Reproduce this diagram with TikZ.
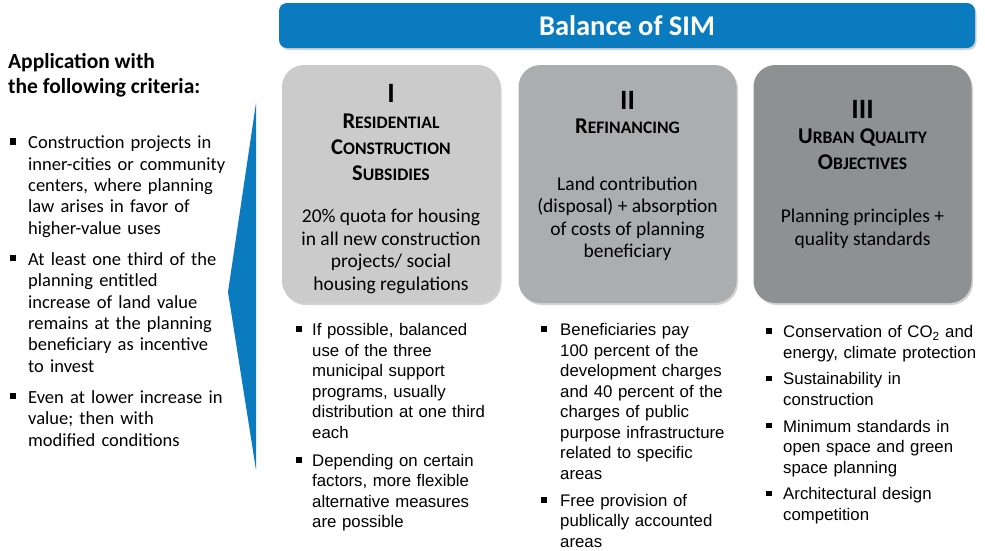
\documentclass[tikz,border=0pt]{standalone}
\usepackage{fontspec}
\setmainfont{Carlito}
\newfontfamily\arialfont{Liberation Sans}
\usetikzlibrary{shapes,positioning,shadows}
\usepackage{xcolor}

\definecolor{simblue}{HTML}{0B7BC0}
\definecolor{greyone}{HTML}{CBCBCC}
\definecolor{greytwo}{HTML}{ABAEB0}
\definecolor{greythree}{HTML}{8D9194}

% fake small caps for the pillar headings
\newcommand\smc[2]{#1{\fontsize{17.6}{26}\selectfont#2}}
% square bullet with hanging text block
\newlength\bulind
\newcommand\sqbullet{\rule[0.22em]{0.33em}{0.33em}}
\newcommand\bitem[2][0pt]{\par\vspace{#1}\noindent\makebox[\bulind][l]{\sqbullet}%
  \parbox[t]{\dimexpr\linewidth-\bulind\relax}{\raggedright\strut #2\strut}}

\begin{document}
\begin{tikzpicture}[x=1pt,y=-1pt]
  \tikzstyle{pillar} = [rounded corners=22pt, minimum width=218pt, minimum height=238pt,
                        drop shadow={opacity=0.35, shadow xshift=1.5pt, shadow yshift=-2pt}]
  \tikzstyle{roman} = [anchor=north, inner sep=0pt, font=\bfseries\fontsize{28}{30}\selectfont]
  \tikzstyle{heading} = [anchor=north, inner sep=0pt, align=center, font=\bfseries\fontsize{22.5}{26}\selectfont]
  \tikzstyle{boxtext} = [anchor=north, inner sep=0pt, align=center, font=\fontsize{19.5}{22.5}\selectfont]
  \tikzstyle{bullets} = [anchor=north west, inner sep=0pt, text width=240pt, align=left,
                         font=\arialfont\fontsize{16.8}{20.5}\selectfont]

  \useasboundingbox (0,0) rectangle (985,550);

  % title bar
  \node[fill=simblue, rounded corners=8pt, minimum width=696pt, minimum height=45pt,
        drop shadow={opacity=0.35, shadow xshift=1.5pt, shadow yshift=-2pt},
        text=white, font=\bfseries\fontsize{28.5}{30}\selectfont] (title) at (627,25.5) {Balance of SIM};

  % criteria on the left
  \node[anchor=north west, inner sep=0pt, align=left, font=\bfseries\fontsize{21.5}{25}\selectfont]
    (crithead) at (8,53) {Application with\\the following criteria:};
  \node[anchor=north west, inner sep=0pt, text width=225pt, align=left, font=\fontsize{18.5}{21.4}\selectfont]
    (critlist) at (10,127) {\setlength\bulind{18pt}%
      \bitem{Construction projects in\\inner-cities or community\\centers, where planning\\law arises in favor of\\higher-value uses}
      \bitem[8.6pt]{At least one third of the\\planning entitled\\increase of land value\\remains at the planning\\beneficiary as incentive\\to invest}
      \bitem[8.6pt]{Even at lower increase in\\value; then with\\modified conditions}};

  % wedge
  \fill[simblue] (256,103) -- (228,292) -- (256,470) -- cycle;

  % the three pillars
  \node[pillar, fill=greyone] (box1) at (391,184) {};
  \node[pillar, fill=greytwo] (box2) at (627.5,184) {};
  \node[pillar, fill=greythree] (box3) at (862.5,184) {};

  \node[roman] (num1) at (box1.north |- 0,84) {I};
  \node[heading] (head1) at (box1.north |- 0,114) {\smc{R}{ESIDENTIAL}\\\smc{C}{ONSTRUCTION}\\\smc{S}{UBSIDIES}};
  \node[boxtext] (text1) at (box1.north |- 0,209) {20\% quota for housing\\in all new construction\\projects/ social\\housing regulations};

  \node[roman] (num2) at (box2.north |- 0,91) {II};
  \node[heading] (head2) at (box2.north |- 0,119) {\smc{R}{EFINANCING}};
  \node[boxtext] (text2) at (box2.north |- 0,176.5) {Land contribution\\(disposal) + absorption\\of costs of planning\\beneficiary};

  \node[roman] (num3) at (box3.north |- 0,100) {III};
  \node[heading] (head3) at (box3.north |- 0,129) {\smc{U}{RBAN} \smc{Q}{UALITY}\\\smc{O}{BJECTIVES}};
  \node[boxtext] (text3) at (box3.north |- 0,209) {Planning principles +\\quality standards};

  % lists below the pillars
  \node[bullets] (list1) at (296,315) {\setlength\bulind{16pt}%
    \bitem{If possible, balanced\\use of the three\\municipal support\\programs, usually\\distribution at one third\\each}
    \bitem[6.7pt]{Depending on certain\\factors, more flexible\\alternative measures\\are possible}};
  \node[bullets] (list2) at (541,315) {\setlength\bulind{19pt}%
    \bitem{Beneficiaries pay\\100 percent of the\\development charges\\and 40 percent of the\\charges of public\\purpose infrastructure\\related to specific\\areas}
    \bitem[5.6pt]{Free provision of\\publically accounted\\areas}};
  \node[bullets] (list3) at (766,317) {\setlength\bulind{17pt}%
    \bitem{Conservation of CO\textsubscript{2} and\\energy, climate protection}
    \bitem[5.2pt]{Sustainability in\\construction}
    \bitem[5.2pt]{Minimum standards in\\open space and green\\space planning}
    \bitem[5.2pt]{Architectural design\\competition}};
\end{tikzpicture}
\end{document}
